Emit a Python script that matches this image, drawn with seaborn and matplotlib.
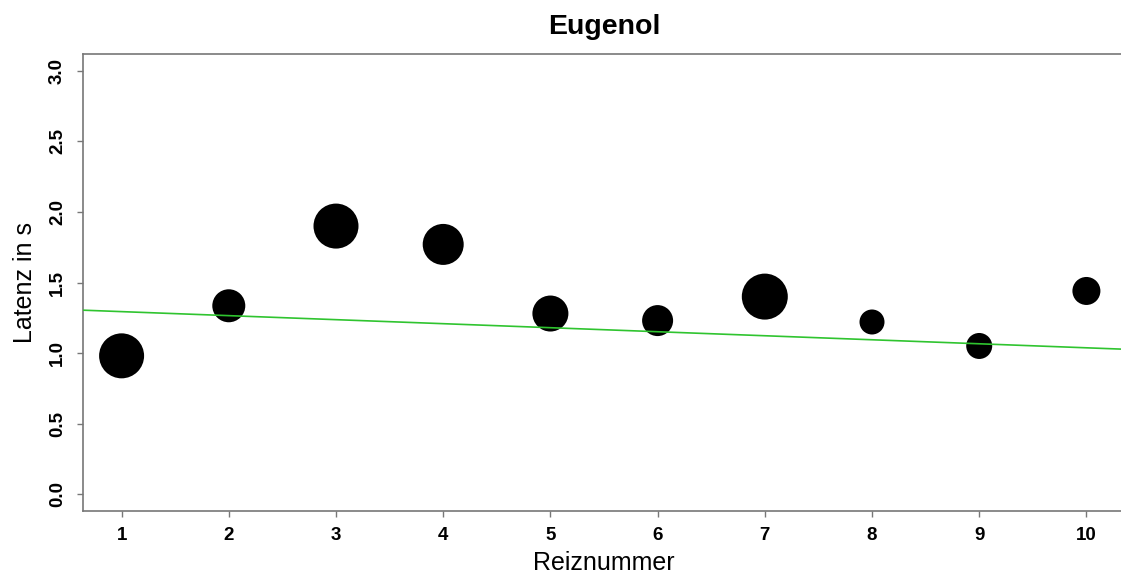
import numpy as np
import pandas as pd
import matplotlib
matplotlib.use('Agg')
import matplotlib.pyplot as plt
import seaborn as sns

# Werte
reiznummer = [1, 2, 3, 4, 5, 6, 7, 8, 9, 10]
latenz = [0.98, 1.335, 1.90, 1.77, 1.28, 1.23, 1.40, 1.22, 1.05, 1.44]
# Punktdurchmesser in Pixeln (bei 100 dpi)
durchmesser = [45, 33, 45, 41, 36, 31, 46, 25, 26, 28]
# Regressionsgerade (abline)
achsenabschnitt = 1.322
steigung = -0.0285

y_ticks = [0.0, 0.5, 1.0, 1.5, 2.0, 2.5, 3.0]

sns.set_style('white')
plt.rcParams['font.family'] = ['Liberation Sans', 'DejaVu Sans']
plt.rcParams['text.color'] = 'black'
plt.rcParams['axes.labelcolor'] = 'black'
plt.rcParams['xtick.labelcolor'] = 'black'
plt.rcParams['ytick.labelcolor'] = 'black'

# Flaeche in pt^2 fuer matplotlib
flaeche = [(d * 72 / 100) ** 2 for d in durchmesser]
df = pd.DataFrame({'Reiznummer': reiznummer, 'Latenz': latenz, 'Flaeche': flaeche})

fig = plt.figure(figsize=(11.21, 5.77), dpi=100)
W, H = 1121, 577
ax = fig.add_axes([83 / W, (H - 511) / H, (1125 - 83) / W, (511 - 54) / H])

sns.scatterplot(data=df, x='Reiznummer', y='Latenz', size='Flaeche',
                sizes=(min(flaeche), max(flaeche)), size_norm=(min(flaeche), max(flaeche)),
                color='black', edgecolor='none', linewidth=0, legend=False, ax=ax, zorder=2)
ax.axline((0, achsenabschnitt), slope=steigung, color='#2fc42f', linewidth=1.2, zorder=3)

# R-artige Achsengrenzen (4% Erweiterung)
ax.set_xlim(1 - 0.36, 10 + 0.36)
ax.set_ylim(-0.12, 3.12)
ax.set_xticks(reiznummer)
ax.set_yticks(y_ticks)
ax.set_xticklabels([str(v) for v in reiznummer], fontsize=13.5, fontweight='bold', color='black')
ax.set_yticklabels([f'{v:.1f}' for v in y_ticks], fontsize=13.5, fontweight='bold',
                   rotation=90, va='center', color='black')
ax.tick_params(axis='both', direction='out', length=4.3, width=1, color='#777777',
               bottom=True, left=True, pad=7)
ax.tick_params(axis='y', pad=8)
for s in ax.spines.values():
    s.set_color('#777777')
    s.set_linewidth(1.2)

ax.set_xlabel('Reiznummer', fontsize=18, color='black')
ax.set_ylabel('Latenz in s', fontsize=18, color='black')
ax.xaxis.set_label_coords(0.5, (511 - 563) / (511 - 54))
ax.xaxis.label.set_va('center')
ax.yaxis.set_label_coords((25 - 83) / (1125 - 83), 0.5)
ax.yaxis.label.set_va('center')

ax.set_title('Eugenol', fontsize=20.5, fontweight='bold', pad=0, color='black',
             y=(511 - 27) / (511 - 54), va='center')

fig.savefig('out.png', dpi=100)
plt.close()
